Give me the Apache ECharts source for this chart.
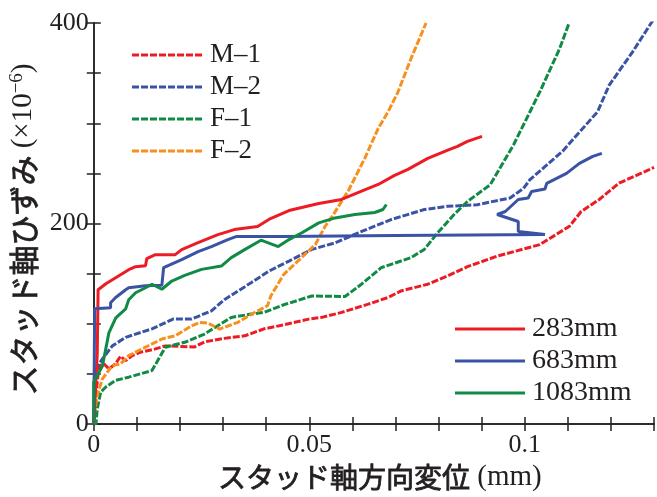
<!DOCTYPE html>
<html><head><meta charset="utf-8">
<script src="https://cdn.jsdelivr.net/npm/echarts@6/dist/echarts.min.js"></script>
<style>html,body{margin:0;padding:0;background:#fff}#c{width:657px;height:497px}</style>
</head><body><div id="c"></div>
<script>
// ---- data ----
const xTickLabels = ['0', '0.05', '0.1'];
const yTickLabels = ['0', '200', '400'];
const specimenNames = ['M–1', 'M–2', 'F–1', 'F–2'];
const positionNames = ['283mm', '683mm', '1083mm'];

// dashed series (specimens): [displacement mm, strain ×10^-6]
const m1 = [[0,0],[0.0005,30],[0.0012,58],[0.0024,60],[0.0035,55],[0.005,60],[0.0062,67.7],[0.0074,63.3],[0.0089,68.3],[0.0108,71.7],[0.0143,75],[0.0166,78],[0.0234,77],[0.0257,82],[0.0303,85.5],[0.035,88],[0.0395,95],[0.0441,99],[0.0499,104.7],[0.0529,106.4],[0.0575,111.4],[0.0637,119.6],[0.0683,126.3],[0.0713,132.8],[0.0775,139.5],[0.0821,147.7],[0.0867,157],[0.0936,167.5],[0.1035,179],[0.1104,197.3],[0.1131,212],[0.1173,224],[0.1219,240.4],[0.128,252],[0.13,256]];
const m2 = [[0,0],[0.0001,45],[0.0008,57],[0.002,65],[0.0043,78],[0.0074,86.5],[0.0135,95],[0.0184,104.7],[0.0227,104.7],[0.0273,113],[0.0303,124],[0.0365,141],[0.0407,152.7],[0.0453,162.6],[0.0506,174.2],[0.056,180.8],[0.0614,190.8],[0.069,204],[0.0767,214],[0.0821,217.2],[0.089,218.8],[0.0966,225.5],[0.0997,235],[0.1012,243.7],[0.1089,272.6],[0.1169,311.5],[0.1196,338],[0.125,371],[0.1292,399],[0.13,404]];
const f1 = [[0,0],[0.0005,0],[0.0008,15],[0.0016,32],[0.0028,37],[0.005,43.5],[0.0081,46.8],[0.0135,53.4],[0.0166,76.6],[0.0211,81.6],[0.0257,89.8],[0.0319,106.4],[0.0365,109.7],[0.0395,111.4],[0.0441,119],[0.0506,127.8],[0.0583,127.2],[0.0621,139.5],[0.0667,156],[0.0736,166],[0.0767,174.2],[0.0798,190.8],[0.0836,209],[0.0867,222],[0.092,238.7],[0.0974,278.4],[0.1035,331.3],[0.1081,374.4],[0.1103,400]];
const f2 = [[0,0],[0.0001,10],[0.0008,28.6],[0.002,45.2],[0.0043,58.4],[0.0062,60],[0.0081,68.3],[0.0112,75],[0.0158,84.9],[0.0189,88.1],[0.0227,98],[0.0246,101.4],[0.0265,100.7],[0.0292,94.8],[0.0334,101.4],[0.0372,111],[0.0403,118],[0.0411,128],[0.0441,149.4],[0.0514,179],[0.0537,197.3],[0.0556,209],[0.0591,233],[0.0629,265.2],[0.066,295],[0.0683,311.5],[0.0706,331.3],[0.0736,364.4],[0.0771,400]];

// solid series (gauge positions)
const p283 = [[0,0],[0.0008,70],[0.001,134],[0.0028,140],[0.0081,154],[0.0097,157],[0.012,158],[0.0123,165],[0.0143,169],[0.0189,169],[0.0204,174],[0.0242,181],[0.0288,189],[0.0326,194],[0.038,197],[0.041,205],[0.0453,213],[0.0522,220],[0.0575,224],[0.062,232],[0.066,239],[0.0698,248],[0.0729,254],[0.0775,265],[0.082,273],[0.0844,277],[0.0867,282],[0.0901,287]];
const p683 = [[0,0],[0.0002,115],[0.0039,116],[0.0039,121],[0.005,126],[0.0074,134],[0.0081,136],[0.012,138],[0.0158,138.5],[0.0162,156],[0.0204,164],[0.0242,172],[0.0273,177],[0.0311,184],[0.033,187],[0.0441,187],[0.07,188],[0.1047,189],[0.0985,192],[0.0985,202],[0.0936,209],[0.0955,212],[0.0985,224],[0.1008,225.5],[0.1016,232],[0.1047,234.5],[0.1051,240],[0.1097,250],[0.1127,260],[0.1158,267],[0.1179,270]];
const p1083 = [[0,0],[0,42],[0.002,58],[0.0035,91],[0.0051,106],[0.0074,115],[0.0081,124],[0.0097,131],[0.012,136],[0.0135,139.5],[0.0158,134.5],[0.0181,142.7],[0.0211,148.4],[0.025,154.3],[0.0296,157.6],[0.0319,166],[0.035,174],[0.0388,183.4],[0.0428,177],[0.0453,184],[0.0483,190.8],[0.0522,200.7],[0.056,205.6],[0.0606,209],[0.0652,211],[0.0671,214],[0.0679,219]];

// ---- style ----
const RED = '#ed1c24', BLUE = '#3a53a4', GREEN = '#118a45', ORANGE = '#f7901e';
const INK = '#231f20';
const SERIF = '"Liberation Serif", "Times New Roman", serif';
const CJK = '"Noto Sans CJK JP", sans-serif';

const chart = echarts.init(document.getElementById('c'), null, {renderer: 'canvas'});

function dashed(name, data, color) {
  return {name, type: 'line', data, showSymbol: false, symbol: 'none', animation: false, clip: true,
    lineStyle: {color, width: 3, type: [7, 2]}, z: 2};
}
function solid(name, data, color) {
  return {name, type: 'line', data, showSymbol: false, symbol: 'none', animation: false, clip: true,
    lineStyle: {color, width: 3}, z: 3};
}

const axisLine = {show: true, lineStyle: {color: INK, width: 1.5}};
const tick = {show: true, inside: true, length: 7, lineStyle: {color: INK, width: 1.5}};

function legendGraphics(names, colors, x0, x1, ys, dash, fs) {
  const g = [];
  names.forEach((n, i) => {
    g.push({type: 'line', shape: {x1: x0, y1: ys[i], x2: x1, y2: ys[i]},
      style: {stroke: colors[i], lineWidth: 3, lineDash: dash ? [7, 2] : null}, z: 10});
    g.push({type: 'text', x: x1 + 7, y: ys[i], style: {text: n, font: fs + 'px ' + SERIF,
      fill: INK, textVerticalAlign: 'middle', verticalAlign: 'middle'}, z: 10});
  });
  return g;
}

const cjkStyle = size => ({fontFamily: CJK, fontSize: size, color: INK, textBorderColor: INK, textBorderWidth: 0.8});

const option = {
  backgroundColor: '#fff',
  animation: false,
  grid: {left: 93, right: 2, top: 23, bottom: 71.5, containLabel: false},
  xAxis: [{
    type: 'value', min: 0, max: 0.13, interval: 0.01, position: 'bottom',
    axisLine, axisTick: tick, splitLine: {show: false},
    axisLabel: {margin: 8, color: INK, fontFamily: SERIF, fontSize: 26,
      formatter: v => { const k = Math.round(v * 100); return k % 5 === 0 && k <= 10 ? xTickLabels[k / 5] : ''; }},
    name: '{j|スタッド軸方向変位}{s| (mm)}', nameLocation: 'middle', nameGap: 37,
    nameTextStyle: {padding: [0, 0, 0, 12], rich: {j: cjkStyle(28), s: {fontFamily: SERIF, fontSize: 29, color: INK}}}
  }, {
    type: 'value', min: 0, max: 0.13, interval: 0.01, position: 'top',
    axisLine, axisTick: tick, axisLabel: {show: false}, splitLine: {show: false}
  }],
  yAxis: [{
    type: 'value', min: 0, max: 400, interval: 50, position: 'left',
    axisLine, axisTick: tick, splitLine: {show: false},
    axisLabel: {margin: 5, color: INK, fontFamily: SERIF, fontSize: 26,
      formatter: v => (v % 200 === 0 ? yTickLabels[v / 200] : '')},
    name: '{j|スタッド軸ひずみ}{s| (×10}{sup|−6}{s|)}', nameLocation: 'middle', nameGap: 47, nameRotate: 90,
    nameTextStyle: {padding: [0, 12, 0, 0], rich: {
      j: Object.assign(cjkStyle(30), {lineHeight: 31}),
      s: {fontFamily: SERIF, fontSize: 29, color: INK, lineHeight: 31},
      sup: {fontFamily: SERIF, fontSize: 19, color: INK, verticalAlign: 'top', lineHeight: 31, padding: [0, 0, 10, 0]}
    }}
  }, {
    type: 'value', min: 0, max: 400, interval: 50, position: 'right',
    axisLine, axisTick: tick, axisLabel: {show: false}, splitLine: {show: false}
  }],
  series: [
    dashed(specimenNames[0], m1, RED),
    dashed(specimenNames[1], m2, BLUE),
    dashed(specimenNames[2], f1, GREEN),
    dashed(specimenNames[3], f2, ORANGE),
    solid(positionNames[0], p283, RED),
    solid(positionNames[1], p683, BLUE),
    solid(positionNames[2], p1083, GREEN)
  ],
  graphic: [].concat(
    legendGraphics(specimenNames, [RED, BLUE, GREEN, ORANGE], 132, 203, [55, 87, 119, 151], true, 27),
    legendGraphics(positionNames, [RED, BLUE, GREEN], 455, 525, [329, 361, 393], false, 28)
  )
};
chart.setOption(option);
</script>
</body></html>
